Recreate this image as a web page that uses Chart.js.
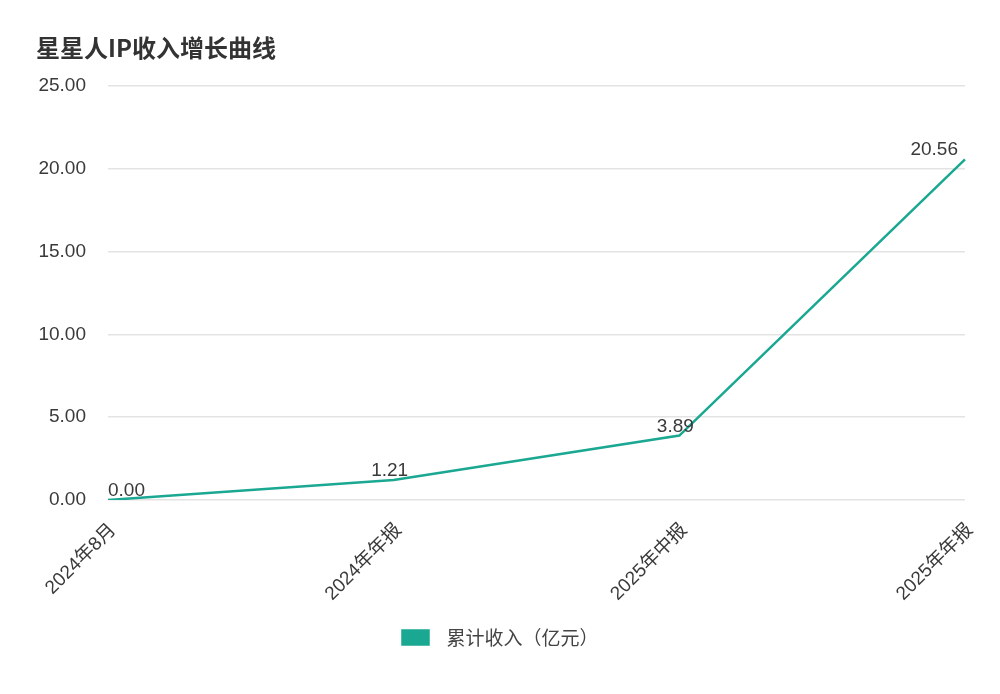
<!DOCTYPE html>
<html>
<head>
<meta charset="utf-8">
<script src="https://cdn.jsdelivr.net/npm/chart.js@4"></script>
<style>
  html, body { margin: 0; padding: 0; background: #fff; }
  #wrap { width: 1000px; height: 694px; }
</style>
</head>
<body>
<div id="wrap"><canvas id="myChart"></canvas></div>
<script>
var periods = ['2024年8月', '2024年年报', '2025年中报', '2025年年报']
var revenue = [0.00, 1.21, 3.89, 20.56]
var yTicks = [0, 5, 10, 15, 20, 25]

var lineColor = '#1aa892'
var fontFamily = '"Liberation Sans", Arial, "Noto Sans CJK SC", sans-serif'

// value labels above each point, kept inside the chart area
var pointLabels = {
    id: 'pointLabels',
    afterDatasetsDraw: function (chart) {
        var ctx = chart.ctx
        var area = chart.chartArea
        var meta = chart.getDatasetMeta(0)
        ctx.save()
        ctx.font = '19px ' + fontFamily
        ctx.fillStyle = '#3a3a3a'
        ctx.textBaseline = 'alphabetic'
        ctx.textAlign = 'center'
        meta.data.forEach(function (pt, i) {
            var text = revenue[i].toFixed(2)
            var w = ctx.measureText(text).width
            var x = pt.x - 4
            if (x - w / 2 < area.left) x = area.left + w / 2
            if (x + w / 2 > area.right - 7) x = area.right - 7 - w / 2
            ctx.fillText(text, x, pt.y - 4)
        })
        ctx.restore()
    }
}

var ctx = document.getElementById('myChart').getContext('2d')
var myChart = new Chart(ctx, {
    type: 'line',
    data: {
        labels: periods,
        datasets: [{
            label: '累计收入（亿元）',
            data: revenue,
            borderColor: lineColor,
            backgroundColor: lineColor,
            borderWidth: 2.5,
            pointRadius: 0,
            tension: 0,
            fill: false
        }]
    },
    options: {
        responsive: true,
        maintainAspectRatio: false,
        animation: false,
        layout: {
            padding: { left: 36, right: 35, top: 10, bottom: 37 }
        },
        scales: {
            x: {
                offset: false,
                grid: { display: false },
                border: { display: false },
                afterFit: function (axis) { axis.height = 110 },
                ticks: {
                    minRotation: 45,
                    maxRotation: 45,
                    labelOffset: 5,
                    color: '#3a3a3a',
                    font: { size: 19, family: fontFamily },
                    padding: 11
                }
            },
            y: {
                min: 0,
                max: 25,
                afterBuildTicks: function (axis) {
                    axis.ticks = yTicks.map(function (v) { return { value: v } })
                },
                afterFit: function (axis) { axis.width = 72 },
                grid: { color: '#e3e3e3', drawTicks: false, lineWidth: 1.5 },
                border: { display: false },
                ticks: {
                    color: '#3a3a3a',
                    padding: 22,
                    font: { size: 19, family: fontFamily },
                    callback: function (value) {
                        return Number(value).toFixed(2)
                    }
                }
            }
        },
        plugins: {
            title: {
                display: true,
                text: '星星人IP收入增长曲线',
                align: 'start',
                color: '#333',
                font: { size: 24, weight: 'bold', family: '"Noto Sans CJK SC", "Liberation Sans", sans-serif' },
                padding: { top: 23, bottom: 24 }
            },
            legend: {
                position: 'bottom',
                labels: {
                    boxWidth: 26,
                    boxHeight: 14,
                    padding: 18,
                    color: '#444',
                    font: { size: 19, family: '"Noto Sans CJK SC", sans-serif' },
                    generateLabels: function (chart) {
                        var items = Chart.defaults.plugins.legend.labels.generateLabels(chart)
                        items.forEach(function (it) { it.text = '  ' + it.text })
                        return items
                    }
                }
            },
            tooltip: { enabled: false }
        }
    },
    plugins: [pointLabels]
})
</script>
</body>
</html>
